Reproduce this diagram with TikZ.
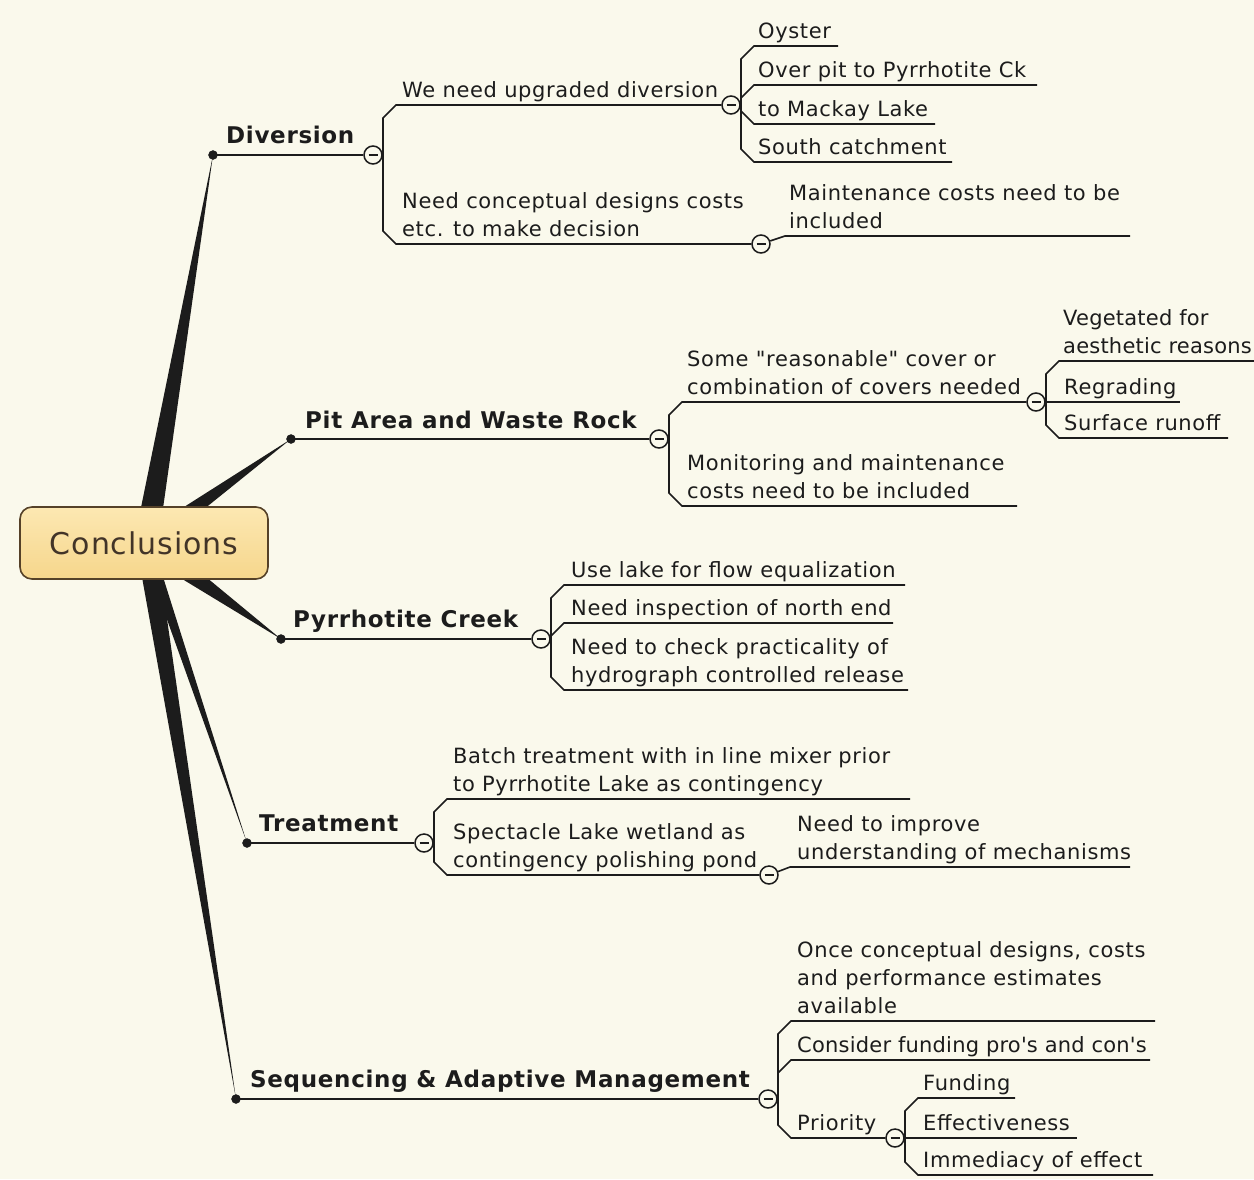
\documentclass[tikz,border=0pt]{standalone}
\usepackage{fontspec}
\defaultfontfeatures[\rmfamily]{}
\setmainfont{DejaVu Sans}[LetterSpace=3]
\usetikzlibrary{calc}

\definecolor{paper}{RGB}{250,249,236}
\definecolor{ink}{RGB}{28,28,28}
\definecolor{boxtop}{RGB}{252,232,178}
\definecolor{boxbot}{RGB}{246,214,140}
\definecolor{boxline}{RGB}{85,65,40}
\definecolor{boxtext}{RGB}{66,52,40}

% 折角分支线：按钮 -> 子项下划线起点 -> 终点
\newcommand{\twig}[3]{%
	\draw[twig] let \p1=(#1.center), \p2=(#2),
		\n1={ifthenelse(\y2>\y1+2,1,ifthenelse(\y2<\y1-2,-1,0))} in
		(#1.east) -- (\x1+10pt,\y1) -- (\x1+10pt,\y2-\n1*13pt) -- (#2) -- (#3);}

\begin{document}
\begin{tikzpicture}[x=1pt,y=-1pt,
	txt/.style={anchor=base west,inner sep=0pt,align=left,text=ink,
		font=\fontsize{21}{28}\selectfont},
	tight/.style={font=\fontsize{21}{28}\selectfont\addfontfeatures{LetterSpace=1}},
	topic/.style={anchor=base west,inner sep=0pt,text=ink,
		font=\fontsize{23}{28}\selectfont\bfseries},
	twig/.style={draw=ink,line width=1.6pt},
	stem/.style={draw=ink,line width=2pt},
	btn/.style={circle,draw=ink,fill=paper,line width=1.5pt,minimum size=18pt,inner sep=0pt,
		path picture={\draw[ink,line width=1.4pt]
			([xshift=-4.5pt]path picture bounding box.center) --
			([xshift=4.5pt]path picture bounding box.center);}},
	root/.style={rounded corners=12pt,draw=boxline,line width=1.6pt,
		top color=boxtop,bottom color=boxbot,minimum width=248pt,minimum height=72pt,
		text=boxtext,font=\fontsize{30}{36}\selectfont}]

	\useasboundingbox (0,0) rectangle (1254,1179);
	\fill[paper] (0,0) rectangle (1254,1179);

	% 中心与各主题的起点
	\coordinate (hub) at (146,543);
	\coordinate (d1) at (213,155);
	\coordinate (d2) at (291,439);
	\coordinate (d3) at (281,639);
	\coordinate (d4) at (247,843);
	\coordinate (d5) at (236,1099);

	% 锥形主干
	\fill[ink] ($(hub)!12pt!90:(d1)$) -- (d1) -- ($(hub)!12pt!-90:(d1)$) -- cycle;
	\fill[ink] ($(hub)!10pt!90:(d2)$) -- (d2) -- ($(hub)!10pt!-90:(d2)$) -- cycle;
	\fill[ink] ($(hub)!12pt!90:(d3)$) -- (d3) -- ($(hub)!12pt!-90:(d3)$) -- cycle;
	\fill[ink] ($(hub)!6pt!90:(d4)$) -- (d4) -- ($(hub)!6pt!-90:(d4)$) -- cycle;
	\fill[ink] ($(hub)!10pt!90:(d5)$) -- (d5) -- ($(hub)!10pt!-90:(d5)$) -- cycle;

	\node[root] (root) at (144,543) {Conclusions};

	% Diversion
	\node[btn] (b1) at (373,155) {};
	\draw[stem] (d1) -- (b1);
	\filldraw[ink] (d1) circle (4.5);
	\node[topic] (t1) at (226,143) {Diversion};

	\node[btn] (b11) at (731,105) {};
	\node[btn] (b12) at (761,244) {};
	\coordinate (c11) at (396,105);
	\coordinate (c12) at (396,244);
	\twig{b1}{c11}{b11}
	\twig{b1}{c12}{b12}
	\node[txt] (t11) at (402,97) {We need upgraded diversion};
	\node[txt] (t12) at (402,236) {Need conceptual designs costs\\etc. to make decision};

	\coordinate (c111) at (754,46);  \coordinate (e111) at (838,46);
	\coordinate (c112) at (754,85);  \coordinate (e112) at (1037,85);
	\coordinate (c113) at (754,124); \coordinate (e113) at (935,124);
	\coordinate (c114) at (754,162); \coordinate (e114) at (952,162);
	\twig{b11}{c111}{e111}
	\twig{b11}{c112}{e112}
	\twig{b11}{c113}{e113}
	\twig{b11}{c114}{e114}
	\node[txt] (t111) at (758,38) {Oyster};
	\node[txt] (t112) at (758,77) {Over pit to Pyrrhotite Ck};
	\node[txt] (t113) at (758,116) {to Mackay Lake};
	\node[txt] (t114) at (758,154) {South catchment};

	\coordinate (c121) at (785,236); \coordinate (e121) at (1130,236);
	\draw[twig] (b12) -- (c121) -- (e121);
	\node[txt] (t121) at (789,228) {Maintenance costs need to be\\included};

	% Pit Area and Waste Rock
	\node[btn] (b2) at (659,439) {};
	\draw[stem] (d2) -- (b2);
	\filldraw[ink] (d2) circle (4.5);
	\node[topic] (t2) at (305,428) {Pit Area and Waste Rock};

	\node[btn] (b21) at (1036,402) {};
	\coordinate (c21) at (682,402);
	\coordinate (c22) at (682,506); \coordinate (e22) at (1017,506);
	\twig{b2}{c21}{b21}
	\twig{b2}{c22}{e22}
	\node[txt] (t21) at (687,394) {Some "reasonable" cover or\\combination of covers needed};
	\node[txt] (t22) at (687,498) {Monitoring and maintenance\\costs need to be included};

	\coordinate (c211) at (1059,361); \coordinate (e211) at (1254,361);
	\coordinate (c212) at (1059,402); \coordinate (e212) at (1180,402);
	\coordinate (c213) at (1059,438); \coordinate (e213) at (1228,438);
	\twig{b21}{c211}{e211}
	\twig{b21}{c212}{e212}
	\twig{b21}{c213}{e213}
	\node[txt,tight] (t211) at (1063,353) {Vegetated for\\aesthetic reasons};
	\node[txt] (t212) at (1064,394) {Regrading};
	\node[txt] (t213) at (1064,430) {Surface runoff};

	% Pyrrhotite Creek
	\node[btn] (b3) at (541,639) {};
	\draw[stem] (d3) -- (b3);
	\filldraw[ink] (d3) circle (4.5);
	\node[topic] (t3) at (293,627) {Pyrrhotite Creek};

	\coordinate (c31) at (564,585); \coordinate (e31) at (905,585);
	\coordinate (c32) at (564,623); \coordinate (e32) at (893,623);
	\coordinate (c33) at (564,690); \coordinate (e33) at (908,690);
	\twig{b3}{c31}{e31}
	\twig{b3}{c32}{e32}
	\twig{b3}{c33}{e33}
	\node[txt] (t31) at (571,577) {Use lake for flow equalization};
	\node[txt] (t32) at (571,615) {Need inspection of north end};
	\node[txt] (t33) at (571,682) {Need to check practicality of\\hydrograph controlled release};

	% Treatment
	\node[btn] (b4) at (424,843) {};
	\draw[stem] (d4) -- (b4);
	\filldraw[ink] (d4) circle (4.5);
	\node[topic] (t4) at (259,831) {Treatment};

	\node[btn] (b42) at (769,875) {};
	\coordinate (c41) at (447,799); \coordinate (e41) at (910,799);
	\coordinate (c42) at (447,875);
	\twig{b4}{c41}{e41}
	\twig{b4}{c42}{b42}
	\node[txt] (t41) at (453,791) {Batch treatment with in line mixer prior\\to Pyrrhotite Lake as contingency};
	\node[txt] (t42) at (453,867) {Spectacle Lake wetland as\\contingency polishing pond};

	\coordinate (c421) at (790,867); \coordinate (e421) at (1130,867);
	\draw[twig] (b42) -- (c421) -- (e421);
	\node[txt] (t421) at (797,859) {Need to improve\\understanding of mechanisms};

	% Sequencing & Adaptive Management
	\node[btn] (b5) at (768,1099) {};
	\draw[stem] (d5) -- (b5);
	\filldraw[ink] (d5) circle (4.5);
	\node[topic] (t5) at (250,1087) {Sequencing \& Adaptive Management};

	\node[btn] (b53) at (895,1138) {};
	\coordinate (c51) at (791,1021); \coordinate (e51) at (1155,1021);
	\coordinate (c52) at (791,1060); \coordinate (e52) at (1150,1060);
	\coordinate (c53) at (791,1138);
	\twig{b5}{c51}{e51}
	\twig{b5}{c52}{e52}
	\twig{b5}{c53}{b53}
	\node[txt] (t51) at (797,1013) {Once conceptual designs, costs\\and performance estimates\\available};
	\node[txt,tight] (t52) at (797,1052) {Consider funding pro's and con's};
	\node[txt] (t53) at (797,1130) {Priority};

	\coordinate (c531) at (918,1098); \coordinate (e531) at (1015,1098);
	\coordinate (c532) at (918,1138); \coordinate (e532) at (1077,1138);
	\coordinate (c533) at (918,1175); \coordinate (e533) at (1153,1175);
	\twig{b53}{c531}{e531}
	\twig{b53}{c532}{e532}
	\twig{b53}{c533}{e533}
	\node[txt] (t531) at (923,1090) {Funding};
	\node[txt] (t532) at (923,1130) {Effectiveness};
	\node[txt] (t533) at (923,1167) {Immediacy of effect};
\end{tikzpicture}
\end{document}
